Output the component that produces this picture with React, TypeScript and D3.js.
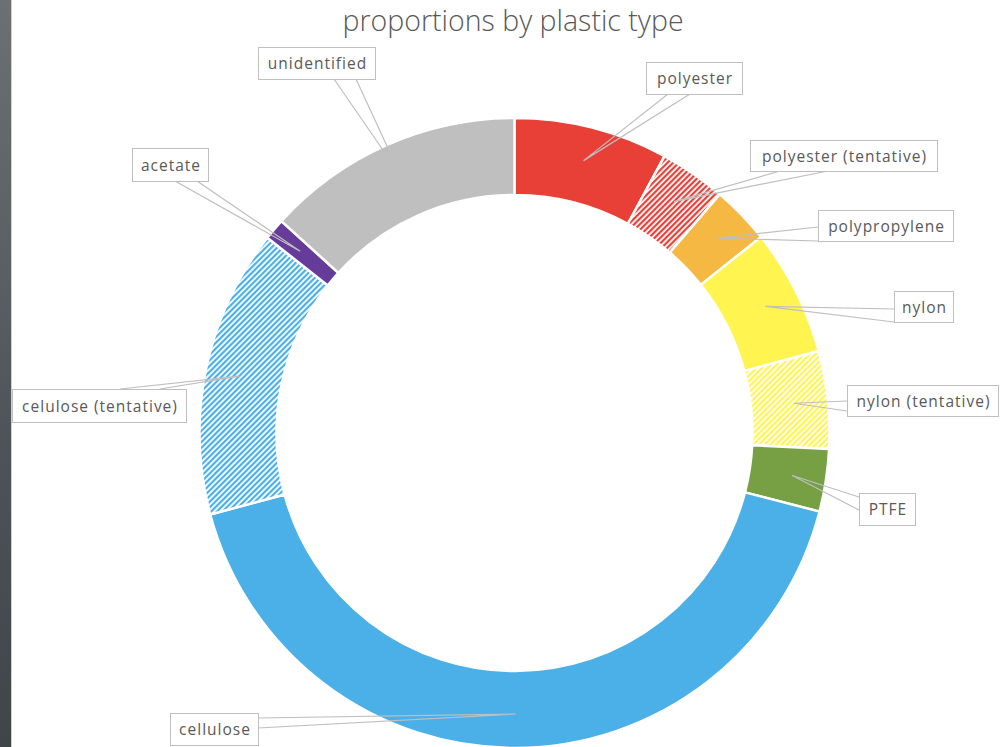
import React from "react";
import * as d3 from "d3";

const categories = [
  "polyester",
  "polyester (tentative)",
  "polypropylene",
  "nylon",
  "nylon (tentative)",
  "PTFE",
  "cellulose",
  "celulose (tentative)",
  "acetate",
  "unidentified",
];
const values = [7.9, 3.4, 3.0, 6.5, 5.0, 3.2, 41.8, 14.8, 1.1, 13.25];
const colors = [
  "#E83F37",
  "#E83F37",
  "#F4B843",
  "#FFF450",
  "#FFF450",
  "#77A045",
  "#4BAFE8",
  "#4BAFE8",
  "#663C9A",
  "#BFBFBF",
];
const hatched = [false, true, false, false, true, false, false, true, false, false];

// label box layout: [x, y, w, h], and wedge base points
const labelBoxes: [number, number, number, number][] = [
  [646, 62, 96, 32],
  [750, 140, 187, 31],
  [818, 210, 135, 31],
  [894, 291, 59, 31],
  [847, 385, 151, 31],
  [859, 493, 56, 32],
  [170, 713, 88, 32],
  [12, 389, 174, 33],
  [132, 148, 76, 33],
  [258, 47, 117, 32],
];
const wedgeBases: [[number, number], [number, number]][] = [
  [[668, 94], [690, 94]],
  [[780, 171], [828, 171]],
  [[818, 227], [818, 241]],
  [[894, 309], [894, 322]],
  [[847, 401], [847, 411]],
  [[859, 497], [859, 510]],
  [[258, 718], [258, 728]],
  [[120, 389], [160, 389]],
  [[175, 181], [197, 181]],
  [[334, 79], [356, 79]],
];

const title = "proportions by plastic type";

export default function App() {
  const W = 1002;
  const H = 747;
  const cx = 514.5;
  const cy = 433;
  const rOuter = 315;
  const rInner = 238;

  const pie = d3
    .pie<number>()
    .sort(null)
    .value((d) => d)
    .startAngle(0)
    .endAngle(2 * Math.PI);
  const arcs = pie(values);
  const arcGen = d3
    .arc<d3.PieArcDatum<number>>()
    .innerRadius(rInner)
    .outerRadius(rOuter);

  const tipR = 281;
  const font = "'Open Sans', sans-serif";

  return (
    <svg
      width={W}
      height={H}
      style={{ position: "absolute", left: 0, top: 0, background: "#fff" }}
    >
      <defs>
        <linearGradient id="strip" x1="0" y1="0" x2="0" y2="1">
          <stop offset="0" stopColor="#6c7072" />
          <stop offset="0.6" stopColor="#4d5458" />
          <stop offset="1" stopColor="#3f4648" />
        </linearGradient>
        {colors.map((c, i) =>
          hatched[i] ? (
            <pattern
              key={i}
              id={`hatch${i}`}
              width={4}
              height={4}
              patternUnits="userSpaceOnUse"
              patternTransform="rotate(45)"
            >
              <rect width={4} height={4} fill="#fff" />
              <rect width={2.2} height={4} fill={c} />
            </pattern>
          ) : null
        )}
      </defs>
      <rect x={0} y={0} width={W} height={H} fill="#fff" />
      <rect x={0} y={0} width={11} height={H} fill="url(#strip)" />
      <rect x={11} y={0} width={1} height={H} fill="#d0d0d0" />

      <text
        x={513}
        y={31}
        textAnchor="middle"
        fontFamily={font}
        fontWeight={300}
        fontSize={28.5}
        fill="#595959"
      >
        {title}
      </text>

      <g transform={`translate(${cx},${cy})`}>
        {arcs.map((a, i) => (
          <path
            key={categories[i]}
            d={arcGen(a) || ""}
            fill={hatched[i] ? `url(#hatch${i})` : colors[i]}
            stroke="#fff"
            strokeWidth={2.5}
          />
        ))}
      </g>

      {arcs.map((a, i) => {
        const mid = (a.startAngle + a.endAngle) / 2;
        const tx = cx + tipR * Math.sin(mid);
        const ty = cy - tipR * Math.cos(mid);
        const [b1, b2] = wedgeBases[i];
        return (
          <path
            key={`w${i}`}
            d={`M${b1[0]},${b1[1]}L${tx},${ty}L${b2[0]},${b2[1]}`}
            fill="none"
            stroke="#bfbfbf"
            strokeWidth={1.2}
          />
        );
      })}

      {labelBoxes.map(([x, y, w, h], i) => (
        <g key={`l${i}`}>
          <rect
            x={x + 0.5}
            y={y + 0.5}
            width={w}
            height={h}
            fill="#fff"
            stroke="#bfbfbf"
            strokeWidth={1}
          />
          <text
            x={x + w / 2 + 1}
            y={y + h / 2 + 6}
            textAnchor="middle"
            fontFamily={font}
            fontSize={15.5}
            letterSpacing={1}
            fill="#595959"
          >
            {categories[i]}
          </text>
        </g>
      ))}
    </svg>
  );
}
